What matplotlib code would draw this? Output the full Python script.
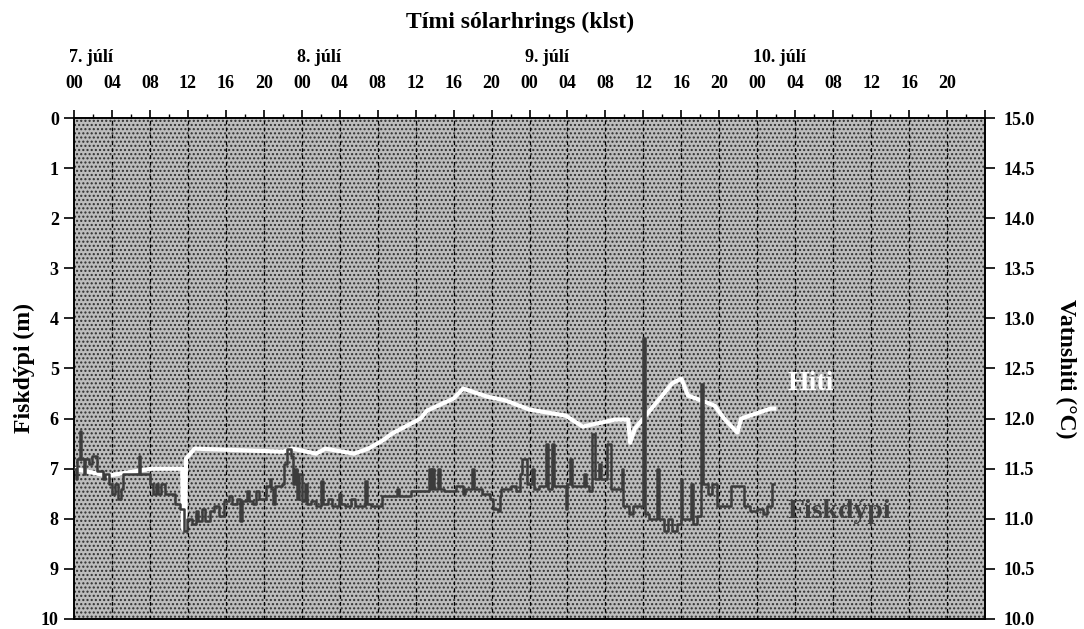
import matplotlib
matplotlib.use("Agg")
import matplotlib.pyplot as plt
from matplotlib.patches import Rectangle
from matplotlib.ticker import MultipleLocator

# --- data ---
# hours from 7. júlí 00:00, fish depth (m), step series
fish_hours = [0.0, 0.2, 0.3, 0.6, 0.75, 1.0, 1.2, 1.6, 1.9, 2.4, 3.0, 3.3, 3.7, 4.0,
              4.3, 4.6, 5.0, 5.2, 6.8, 7.0, 8.0, 8.3, 8.6, 8.9, 9.2, 9.6, 10.6, 11.2,
              11.6, 11.9, 12.4, 12.8, 13.1, 13.5, 13.8, 14.3, 14.8, 15.3, 15.8, 16.3,
              16.6, 17.2, 17.5, 17.7, 18.2, 18.4, 18.9, 19.2, 19.5, 20.2, 20.6, 20.8,
              21.0, 21.2, 21.9, 22.1, 22.4, 22.9, 23.1, 23.3, 23.5, 23.7, 24.0, 24.3,
              24.5, 25.0, 25.5, 26.0, 26.2, 26.8, 27.2, 27.9, 28.1, 28.6, 29.2, 29.6,
              30.7, 30.9, 31.3, 32.5, 34.0, 34.2, 35.5, 37.4, 37.6, 37.7, 37.9, 38.4,
              38.6, 39.0, 40.2, 41.0, 41.2, 41.9, 42.1, 43.0, 43.8, 44.2, 44.7, 44.9,
              45.0, 46.0, 46.6, 47.0, 47.2, 47.7, 48.3, 48.5, 49.0, 49.7, 49.9, 50.4,
              50.6, 51.8, 52.0, 52.3, 52.5, 53.7, 53.9, 54.3, 54.6, 54.9, 55.3, 55.5,
              56.2, 56.6, 57.7, 57.8, 58.5, 58.9, 60.0, 60.15, 60.6, 61.4, 61.6, 62.2,
              62.6, 63.0, 63.5, 64.0, 64.1, 65.0, 65.2, 65.6, 66.1, 66.3, 66.8, 67.2,
              67.8, 69.2, 70.6, 71.2, 72.0, 72.6, 73.0, 73.6, 73.8]
fish_depth = [7.0, 7.2, 6.8, 6.25, 6.8, 7.1, 6.8, 6.9, 6.75, 7.05, 7.2, 7.1, 7.3, 7.5,
              7.3, 7.6, 7.4, 7.1, 6.75, 7.1, 7.3, 7.5, 7.3, 7.5, 7.3, 7.5, 7.7, 7.8,
              8.25, 8.0, 8.1, 7.85, 8.05, 7.8, 8.05, 7.85, 7.75, 7.95, 7.65, 7.55,
              7.7, 7.6, 8.05, 7.65, 7.45, 7.65, 7.7, 7.45, 7.6, 7.35, 7.2, 7.4,
              7.7, 7.35, 7.3, 6.9, 6.6, 6.75, 7.3, 7.0, 7.6, 7.1, 7.65, 7.3,
              7.7, 7.65, 7.75, 7.25, 7.7, 7.6, 7.75, 7.5, 7.7, 7.75, 7.6, 7.75,
              7.25, 7.7, 7.75, 7.55, 7.4, 7.55, 7.45, 7.0, 7.4, 7.0, 7.4, 7.0,
              7.4, 7.45, 7.35, 7.5, 7.4, 7.0, 7.4, 7.5, 7.6, 7.8, 7.85, 7.55,
              7.4, 7.35, 7.45, 7.1, 6.8, 7.3, 7.0, 7.4, 7.35, 6.5, 7.4, 6.5,
              7.35, 7.8, 7.3, 6.8, 7.35, 7.1, 7.35, 7.45, 6.3, 7.2, 6.9, 7.2,
              6.5, 7.4, 7.0, 7.75, 7.9, 7.75, 4.4, 7.9, 8.0, 7.0, 8.0, 8.25,
              8.0, 8.25, 8.1, 7.2, 8.0, 7.3, 8.1, 7.95, 5.3, 7.3, 7.5, 7.3,
              7.75, 7.35, 7.75, 7.85, 7.8, 7.9, 7.75, 7.3, 7.3]

# water temperature (°C)
temp_hours = [0.0, 3.5, 8.2, 11.4, 11.5, 11.7, 11.8, 12.7, 22.0, 23.0, 25.5, 26.5,
              29.5, 31.0, 32.5, 33.5, 34.5, 35.5, 36.5, 37.2, 40.0, 41.0, 43.5, 45.5,
              48.0, 51.8, 53.6, 57.0, 58.4, 58.6, 59.1, 60.5, 61.9, 63.0, 64.0, 64.7,
              67.5, 68.5, 69.9, 70.3, 73.4, 73.8]
temp_c = [11.5, 11.43, 11.5, 11.5, 10.9, 10.9, 11.6, 11.7, 11.67, 11.7, 11.65, 11.7,
          11.65, 11.7, 11.78, 11.85, 11.9, 11.95, 12.0, 12.08, 12.2, 12.3, 12.22, 12.18,
          12.09, 12.03, 11.92, 11.99, 11.99, 11.76, 11.9, 12.06, 12.22, 12.35, 12.4, 12.23,
          12.13, 12.0, 11.86, 12.0, 12.1, 12.1]

hour_labels = ["00", "04", "08", "12", "16", "20"] * 4
day_labels = ["7. júlí", "8. júlí", "9. júlí", "10. júlí"]

plt.rcParams['font.family'] = ['Liberation Serif', 'DejaVu Serif']
plt.rcParams['font.weight'] = 'bold'
plt.rcParams['hatch.color'] = '#303030'
plt.rcParams['hatch.linewidth'] = 1.0

fig = plt.figure(figsize=(10.84, 6.29), dpi=100)
ax = fig.add_axes([0.0683, 0.0159, 0.8404, 0.7965])
ax2 = ax.twinx()

# background stipple and dashed hour lines live on the lower (temperature) axes
ax2.add_patch(Rectangle((0, 0), 1, 1, transform=ax2.transAxes, facecolor='#bdbdbd',
                        edgecolor='#303030', hatch='....', lw=0, zorder=0))
for h in range(4, 96, 4):
    ax2.axvline(h, color='black', lw=0.9, ls=(0, (3, 2.5)), zorder=1)
ax2.plot(temp_hours, temp_c, color='white', lw=3, zorder=3)
ax2.set_ylim(10, 15)
ax2.set_yticks([10 + 0.5 * i for i in range(11)])
ax2.set_yticklabels([f"{10 + 0.5 * i:.1f}" for i in range(11)])
ax2.tick_params(axis='y', direction='out', length=7, width=1.2, pad=6, labelsize=13)
ax2.set_ylabel("Vatnshiti (°C)", rotation=270, fontsize=17, fontweight='bold',
               labelpad=30)
ax2.text(75.2, 12.35, "Hiti", color='white', fontsize=20, fontweight='bold',
         va='center', ha='left', zorder=5)

# fish depth on top
ax.set_zorder(ax2.get_zorder() + 1)
ax.patch.set_visible(False)
ax.plot(fish_hours, fish_depth, color='#3c3c3c', lw=1.8, drawstyle='steps-post',
        zorder=4)
ax.set_xlim(0, 96)
ax.set_ylim(10, 0)
ax.set_yticks(range(11))
ax.tick_params(axis='y', direction='out', length=7, width=1.2, pad=4, labelsize=13)
ax.set_ylabel("Fiskdýpi (m)", fontsize=17, fontweight='bold', labelpad=4)
ax.text(75.2, 7.85, "Fiskdýpi", color='#404040', fontsize=20, fontweight='bold',
        va='center', ha='left', zorder=5)

ax.xaxis.tick_top()
ax.set_xticks(range(0, 97, 4))
ax.set_xticklabels(hour_labels + [""])
ax.xaxis.set_minor_locator(MultipleLocator(2))
ax.tick_params(axis='x', which='major', direction='out', length=6, width=1.2,
               pad=13, labelsize=13)
ax.tick_params(axis='x', which='minor', direction='out', length=3, width=1.0)
ax2.tick_params(axis='x', which='both', bottom=False, top=False,
                labelbottom=False, labeltop=False)

for i, lab in enumerate(day_labels):
    ax.text(i * 24 - 0.5, 1.12, lab, transform=ax.get_xaxis_transform(),
            ha='left', va='center', fontsize=13, fontweight='bold')

fig.text(0.48, 0.965, "Tími sólarhrings (klst)", ha='center', va='center',
         fontsize=17, fontweight='bold')

for a in (ax, ax2):
    for s in a.spines.values():
        s.set_linewidth(1.2)

fig.savefig("out.png", dpi=100)
